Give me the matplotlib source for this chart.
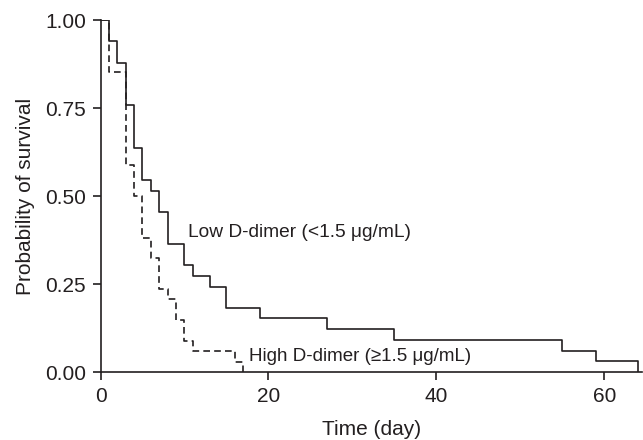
import matplotlib
matplotlib.use("Agg")
import matplotlib.pyplot as plt

plt.rcParams['font.family'] = ['Liberation Sans', 'DejaVu Sans']

low_time = [0, 1, 2, 3, 4, 5, 6, 7, 8, 10, 11, 13, 15, 19, 27, 35, 55, 59, 64]
low_surv = [1.0, 0.939, 0.879, 0.758, 0.636, 0.545, 0.515, 0.455, 0.364, 0.303,
            0.273, 0.242, 0.182, 0.152, 0.121, 0.091, 0.061, 0.030, 0.0]

high_time = [0, 1, 3, 4, 5, 6, 7, 8, 9, 10, 11, 16, 17]
high_surv = [1.0, 0.853, 0.588, 0.500, 0.382, 0.324, 0.235, 0.206, 0.147, 0.088,
             0.059, 0.029, 0.0]

x_ticks = [0, 20, 40, 60]
y_ticks = [0.0, 0.25, 0.5, 0.75, 1.0]
y_ticklabels = ["0.00", "0.25", "0.50", "0.75", "1.00"]

low_label = "Low D-dimer (<1.5 \u03bcg/mL)"
high_label = "High D-dimer (\u22651.5 \u03bcg/mL)"

ink = '#231f20'

fig = plt.figure(figsize=(6.43, 4.40), dpi=100)
ax = fig.add_axes([100.5 / 643, 1 - 372 / 440, (642 - 100.5) / 643, (372 - 20) / 440])

ax.step(low_time, low_surv, where='post', color=ink, lw=1.2)
ax.step(high_time, high_surv, where='post', color=ink, lw=1.2, linestyle=(0, (4, 2.5)))

ax.set_xlim(0, 64.5)
ax.set_ylim(0, 1.0)
ax.set_xticks(x_ticks)
ax.set_yticks(y_ticks)
ax.set_yticklabels(y_ticklabels)

for s in ['top', 'right']:
    ax.spines[s].set_visible(False)
for s in ['left', 'bottom']:
    ax.spines[s].set_color(ink)
    ax.spines[s].set_linewidth(1.2)
ax.tick_params(direction='out', length=6, width=1.2, color=ink, labelcolor=ink,
               labelsize=15)
ax.tick_params(axis='x', pad=5)
ax.tick_params(axis='y', pad=4.5)

ax.set_xlabel("Time (day)", fontsize=15, color=ink, labelpad=10)
ax.set_ylabel("Probability of survival", fontsize=15, color=ink, labelpad=7)

ax.text(10.4, 0.395, low_label, fontsize=13.8, color=ink, va='center', ha='left')
ax.text(17.7, 0.044, high_label, fontsize=13.5, color=ink, va='center', ha='left')

fig.savefig("out.png", dpi=100)
